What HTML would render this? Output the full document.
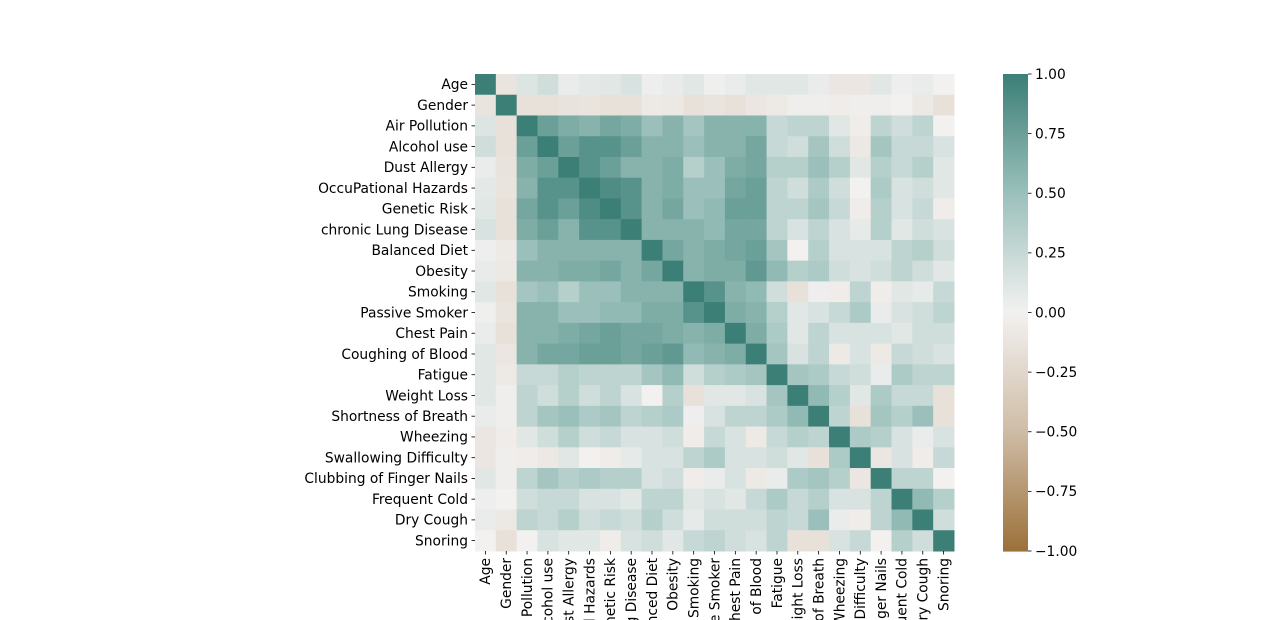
<!DOCTYPE html>
<html><head><meta charset="utf-8"><style>
html,body{margin:0;padding:0;background:#fff;width:1280px;height:620px;overflow:hidden;}
svg{display:block;font-family:"DejaVu Sans","Liberation Sans",sans-serif;}
</style></head><body>
<svg id="chart" width="1280" height="620" viewBox="0 0 1280 620"></svg>
<script>
const labels = ["Age","Gender","Air Pollution","Alcohol use","Dust Allergy","OccuPational Hazards","Genetic Risk","chronic Lung Disease","Balanced Diet","Obesity","Smoking","Passive Smoker","Chest Pain","Coughing of Blood","Fatigue","Weight Loss","Shortness of Breath","Wheezing","Swallowing Difficulty","Clubbing of Finger Nails","Frequent Cold","Dry Cough","Snoring"];
const upper = [
 [-0.12,0.12,0.2,0.05,0.08,0.1,0.15,0.03,0.06,0.1,0.02,0.05,0.1,0.1,0.1,0.05,-0.1,-0.1,0.1,0.03,0.05,0.0],
 [-0.15,-0.15,-0.13,-0.12,-0.15,-0.15,-0.07,-0.08,-0.15,-0.12,-0.15,-0.1,-0.07,-0.03,-0.03,-0.05,-0.03,-0.03,0.0,-0.08,-0.15],
 [0.75,0.65,0.6,0.7,0.65,0.5,0.6,0.45,0.6,0.6,0.6,0.25,0.3,0.3,0.1,-0.05,0.3,0.2,0.3,0.0],
 [0.75,0.85,0.85,0.75,0.6,0.6,0.5,0.6,0.6,0.7,0.25,0.2,0.45,0.2,-0.08,0.45,0.25,0.25,0.15],
 [0.85,0.75,0.6,0.6,0.65,0.35,0.5,0.65,0.7,0.35,0.35,0.5,0.35,0.1,0.35,0.25,0.35,0.1],
 [0.9,0.85,0.6,0.65,0.5,0.5,0.7,0.75,0.3,0.2,0.4,0.2,0.0,0.4,0.15,0.2,0.1],
 [0.85,0.6,0.7,0.5,0.55,0.75,0.75,0.3,0.3,0.45,0.25,-0.05,0.35,0.15,0.25,-0.05],
 [0.6,0.6,0.6,0.55,0.7,0.7,0.3,0.15,0.3,0.15,0.07,0.35,0.1,0.2,0.15],
 [0.7,0.6,0.65,0.7,0.75,0.45,0.0,0.35,0.15,0.15,0.15,0.3,0.35,0.2],
 [0.6,0.65,0.65,0.8,0.55,0.35,0.4,0.2,0.15,0.2,0.3,0.2,0.1],
 [0.85,0.6,0.55,0.2,-0.15,0.03,-0.05,0.3,-0.05,0.1,0.07,0.25],
 [0.65,0.6,0.35,0.1,0.15,0.25,0.4,0.05,0.15,0.2,0.3],
 [0.65,0.4,0.1,0.3,0.15,0.15,0.15,0.1,0.2,0.2],
 [0.45,0.15,0.3,-0.07,0.15,-0.07,0.25,0.2,0.15],
 [0.45,0.4,0.25,0.2,0.05,0.4,0.3,0.3],
 [0.55,0.35,0.1,0.4,0.25,0.25,-0.15],
 [0.3,-0.15,0.45,0.35,0.5,-0.15],
 [0.4,0.35,0.15,0.05,0.15],
 [-0.1,0.15,-0.05,0.25],
 [0.3,0.3,0.0],
 [0.55,0.35],
 [0.2]
];
const cbTicks = [-1,-0.75,-0.5,-0.25,0,0.25,0.5,0.75,1];
const cbLabels = ["−1.00","−0.75","−0.50","−0.25","0.00","0.25","0.50","0.75","1.00"];

const NS="http://www.w3.org/2000/svg";
const svg=document.getElementById('chart');
const n=labels.length;
const X0=475,Y0=74,W=479,H=477;
const cw=W/n,ch=H/n;
const FS=13.8;
const xPos=i=>X0+i*cw, yPos=i=>Y0+i*ch;
const stops=[[-1,[155,113,57]],[-0.5,[207,188,166]],[0,[242,241,240]],[0.5,[155,192,187]],[1,[59,127,118]]];
function color(v){v=Math.max(-1,Math.min(1,v));for(let k=0;k<stops.length-1;k++){const[a,ca]=stops[k],[b,cb]=stops[k+1];if(v<=b){const t=(v-a)/(b-a);return 'rgb('+ca.map((c,j)=>Math.round(c+(cb[j]-c)*t)).join(',')+')';}}return 'rgb(59,127,118)';}
function mk(tag,attrs){const e=document.createElementNS(NS,tag);for(const k in attrs)e.setAttribute(k,attrs[k]);svg.appendChild(e);return e;}
function val(i,j){if(i===j)return 1;const a=Math.min(i,j),b=Math.max(i,j);return upper[a][b-a-1];}
for(let i=0;i<n;i++)for(let j=0;j<n;j++){
 const r=mk('rect',{x:xPos(j),y:yPos(i),width:cw+0.5,height:ch+0.5,fill:color(val(i,j))});
 
 
}
for(let i=0;i<n;i++){
 const cy=yPos(i)+ch/2;
 const t=mk('line',{x1:X0-3.5,x2:X0,y1:cy,y2:cy,stroke:'#000','stroke-width':0.8});
 
 const tx=mk('text',{x:X0-7,y:cy+4.8,'text-anchor':'end','font-size':FS,fill:'#000'});
 tx.textContent=labels[i];
 
 const cx=xPos(i)+cw/2;
 const t2=mk('line',{x1:cx,x2:cx,y1:Y0+H,y2:Y0+H+3.5,stroke:'#000','stroke-width':0.8});
 
 const tx2=mk('text',{x:0,y:0,'text-anchor':'end','font-size':FS,fill:'#000',transform:`translate(${cx+4.8},${Y0+H+7}) rotate(-90)`});
 tx2.textContent=labels[i];
 
}
const CX=1003,CW=25,CY=74,CH=477;
const cbY=v=>CY+(1-v)*CH/2;
for(let k=0;k<200;k++){
 const v1=1-k*0.01;
 const r=mk('rect',{x:CX,y:cbY(v1),width:CW,height:CH/200+0.6,fill:color(v1-0.005)});
 
}
cbTicks.forEach((v,k)=>{
 const y=cbY(v);
 const l=mk('line',{x1:CX+CW,x2:CX+CW+3.5,y1:y,y2:y,stroke:'#000','stroke-width':0.8});
 
 const t=mk('text',{x:CX+CW+7,y:y+4.8,'font-size':FS,fill:'#000'});
 t.textContent=cbLabels[k];
 
});
</script>
</body></html>
